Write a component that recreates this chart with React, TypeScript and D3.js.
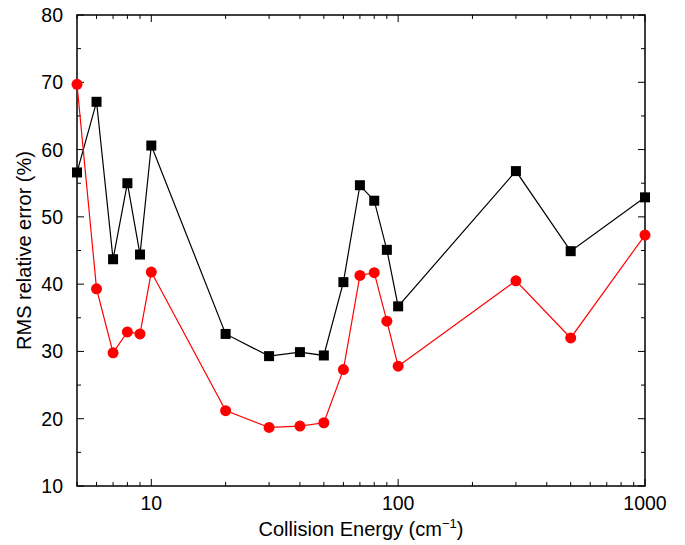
import React from 'react';
import * as d3 from 'd3';

const energies = [5, 6, 7, 8, 9, 10, 20, 30, 40, 50, 60, 70, 80, 90, 100, 300, 500, 1000];
const blackSeries = [56.6, 67.1, 43.7, 55.0, 44.4, 60.6, 32.6, 29.3, 29.9, 29.4, 40.3, 54.7, 52.4, 45.1, 36.7, 56.8, 44.9, 52.9];
const redSeries = [69.7, 39.3, 29.8, 32.9, 32.6, 41.8, 21.2, 18.7, 18.9, 19.4, 27.3, 41.3, 41.7, 34.5, 27.8, 40.5, 32.0, 47.3];
const xTickLabels = [10, 100, 1000];
const yTickLabels = [10, 20, 30, 40, 50, 60, 70, 80];

const W = 685;
const H = 545;
const m = { left: 77, right: 40, top: 15, bottom: 59 };
const font = 'Liberation Sans, Arial, Helvetica, sans-serif';

export default function App() {
  const x = d3.scaleLog().domain([5, 1000]).range([m.left, W - m.right]);
  const y = d3.scaleLinear().domain([10, 80]).range([H - m.bottom, m.top]);
  const x0 = x.range()[0], x1 = x.range()[1];
  const y0 = y.range()[0], y1 = y.range()[1];

  const line = d3.line<number>()
    .x((_, i) => x(energies[i]))
    .y(d => y(d));

  // minor ticks on the log axis: 2..9 of each decade
  const xMinor: number[] = [];
  [1, 10, 100].forEach(dec => {
    for (let k = 1; k <= 9; k++) {
      const v = dec * k;
      if (v >= 5 && v <= 1000 && !xTickLabels.includes(v)) xMinor.push(v);
    }
  });
  const yMinor = d3.range(15, 80, 10);

  const major = 7, minor = 4;

  return (
    <svg width={W} height={H} style={{ position: 'absolute', left: 0, top: 0, background: '#fff' }}>
      <g stroke="#000" strokeWidth={1}>
        {xTickLabels.map(v => (
          <g key={'xm' + v}>
            <line x1={x(v)} x2={x(v)} y1={y0} y2={y0 - major} />
            <line x1={x(v)} x2={x(v)} y1={y1} y2={y1 + major} />
          </g>
        ))}
        {xMinor.map(v => (
          <g key={'xn' + v}>
            <line x1={x(v)} x2={x(v)} y1={y0} y2={y0 - minor} />
            <line x1={x(v)} x2={x(v)} y1={y1} y2={y1 + minor} />
          </g>
        ))}
        {yTickLabels.map(v => (
          <g key={'ym' + v}>
            <line x1={x0} x2={x0 + major} y1={y(v)} y2={y(v)} />
            <line x1={x1} x2={x1 - major} y1={y(v)} y2={y(v)} />
          </g>
        ))}
        {yMinor.map(v => (
          <g key={'yn' + v}>
            <line x1={x0} x2={x0 + minor} y1={y(v)} y2={y(v)} />
            <line x1={x1} x2={x1 - minor} y1={y(v)} y2={y(v)} />
          </g>
        ))}
      </g>
      <rect x={x0} y={y1} width={x1 - x0} height={y0 - y1} fill="none" stroke="#000" strokeWidth={1.5} />

      <path d={line(blackSeries) ?? ''} fill="none" stroke="#000" strokeWidth={1.2} />
      <path d={line(redSeries) ?? ''} fill="none" stroke="#ff0000" strokeWidth={1.2} />
      {blackSeries.map((v, i) => (
        <rect key={'b' + i} x={x(energies[i]) - 5} y={y(v) - 5} width={10} height={10} fill="#000" />
      ))}
      {redSeries.map((v, i) => (
        <circle key={'r' + i} cx={x(energies[i])} cy={y(v)} r={5.5} fill="#ff0000" />
      ))}

      <g fontFamily={font} fontSize={19.5} fill="#000">
        {yTickLabels.map(v => (
          <text key={'yl' + v} x={x0 - 14} y={y(v)} dy="0.36em" textAnchor="end">{v}</text>
        ))}
        {xTickLabels.map(v => (
          <text key={'xl' + v} x={x(v)} y={y0 + 24} textAnchor="middle">{v}</text>
        ))}
        <text x={(x0 + x1) / 2} y={H - 9} textAnchor="middle" fontSize={20}>
          Collision Energy (cm<tspan dy={-8} fontSize={13}>−1</tspan><tspan dy={8}>)</tspan>
        </text>
        <text transform={`translate(31,${(y0 + y1) / 2}) rotate(-90)`} textAnchor="middle" fontSize={20}>
          RMS relative error (%)
        </text>
      </g>
    </svg>
  );
}
